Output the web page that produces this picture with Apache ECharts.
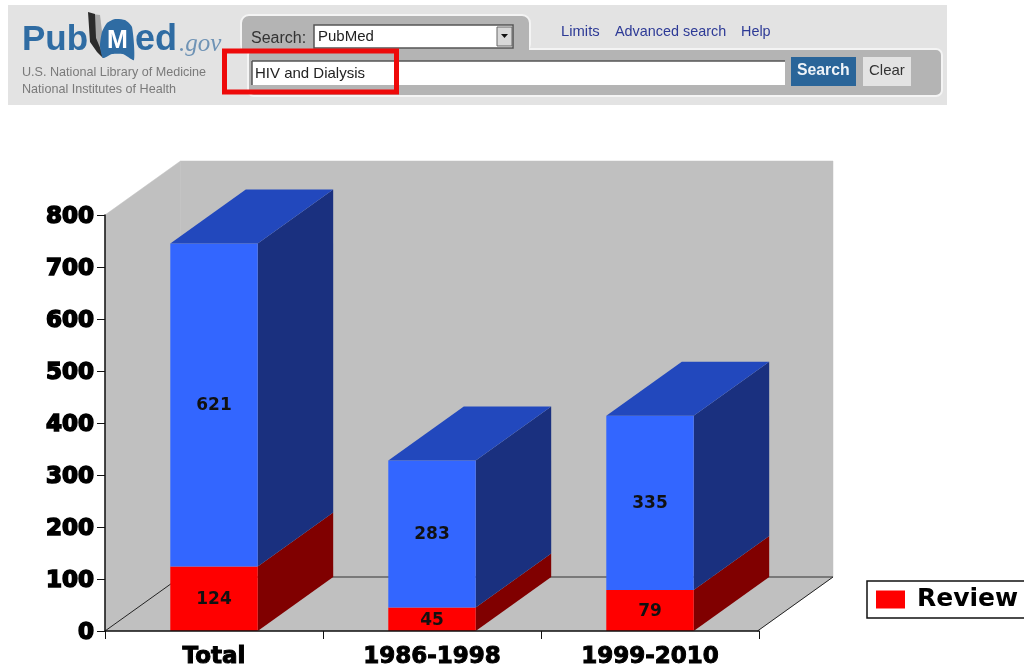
<!DOCTYPE html>
<html><head><meta charset="utf-8">
<style>html,body{margin:0;padding:0;background:#fff}#c{width:1024px;height:670px}</style>
<script src="https://cdn.jsdelivr.net/npm/echarts@6/dist/echarts.min.js"></script>
</head><body><div id="c"></div>
<script>
const categories = ['Total', '1986-1998', '1999-2010'];
const reviewValues = [124, 45, 79];
const otherValues = [621, 283, 335];
const yTicks = [0, 100, 200, 300, 400, 500, 600, 700, 800];

const DX = 75.5, DY = -54, BAR_RATIO = 0.401;
const chart = echarts.init(document.getElementById('c'));
const sans = '"Liberation Sans", Arial, sans-serif';
const heavy = '"DejaVu Sans", Verdana, sans-serif';

function backdrop(params, api) {
  const c = params.coordSys, l = c.x, r = c.x + c.width - 1.5, t = c.y, b = c.y + c.height;
  const wall = '#c0c0c0';
  const poly = pts => ({type:'polygon', shape:{points:pts}, style:{fill:wall, stroke:wall, lineWidth:0.5}});
  const line = (x1,y1,x2,y2,col,w) => ({type:'line', shape:{x1,y1,x2,y2}, style:{stroke:col, lineWidth:w}});
  return {type:'group', children:[
    poly([[l+DX,t+DY],[r+DX,t+DY],[r+DX,b+DY],[l+DX,b+DY]]),
    poly([[l,t],[l+DX,t+DY],[l+DX,b+DY],[l,b]]),
    poly([[l,b],[l+DX,b+DY],[r+DX,b+DY],[r,b]]),
    line(l+DX,b+DY,r+DX,b+DY,'#333',1.2),
    line(l,b,l+DX,b+DY,'#222',1),
    line(r,b,r+DX,b+DY,'#222',1)
  ]};
}

function barItem(front, side, top, drawTop) {
  return function (params, api) {
    const i = api.value(0);
    const p0 = api.coord([i, api.value(1)]), p1 = api.coord([i, api.value(2)]);
    const w = api.size([1, 0])[0] * BAR_RATIO;
    const xl = p0[0] - w / 2, xr = p0[0] + w / 2, yb = p0[1], yt = p1[1];
    const kids = [
      {type:'polygon', shape:{points:[[xr,yb],[xr+DX,yb+DY],[xr+DX,yt+DY],[xr,yt]]}, style:{fill:side}},
      {type:'polygon', shape:{points:[[xl,yb],[xr,yb],[xr,yt],[xl,yt]]}, style:{fill:front}}
    ];
    if (drawTop) kids.push({type:'polygon', shape:{points:[[xl,yt],[xr,yt],[xr+DX,yt+DY],[xl+DX,yt+DY]]}, style:{fill:top}});
    kids.push({type:'text', style:{text:String(api.value(2)-api.value(1)), x:p0[0], y:(yb+yt)/2+1,
      align:'center', verticalAlign:'middle', fill:'#111', font:'bold 17px '+heavy}});
    return {type:'group', children:kids};
  };
}

const txt = (text,x,y,font,fill,extra) => ({type:'text', x, y, style:Object.assign({text, font, fill, verticalAlign:'middle'}, extra||{})});
const rect = (x,y,width,height,fill,r,stroke,lw) => ({type:'rect', shape:{x,y,width,height,r:r||0}, style:{fill, stroke:stroke||null, lineWidth:lw||0}});

const header = [
  rect(8,5,939,100,'#e3e3e3'),
  // logo
  {type:'polygon', shape:{points:[[92,14],[100,15],[103,40],[100,52],[96,46]]}, style:{fill:'#a8a8a8'}},
  {type:'polygon', shape:{points:[[88,12],[95,14],[96,38],[101,50],[103,58],[97,52],[90,42]]}, style:{fill:'#2c2c2c'}},
  {type:'polygon', shape:{smooth:0.2, points:[[100,46],[102,32],[107,23],[115,19],[125,20],[132,27],[134,60],[123,54],[112,54],[103,58]]}, style:{fill:'#2f6ca3'}},
  txt('Pub',22,40,'bold 35px '+sans,'#2f6ca3'),
  txt('M',107,41,'bold 25px '+sans,'#ffffff'),
  txt('ed',135,40,'bold 36px '+sans,'#2f6ca3'),
  txt('.gov',179,44,'italic 25px "Liberation Serif", Georgia, serif','#6f93b5'),
  txt('U.S. National Library of Medicine',22,72.5,'12.6px '+sans,'#7a7a7a'),
  txt('National Institutes of Health',22,90,'12.6px '+sans,'#7a7a7a'),
  // tab and search bar
  rect(241,15,289,37,'#b4b4b4',8,'#f4f4f4',2),
  rect(248,49,694,47,'#b4b4b4',6,'#f4f4f4',2),
  rect(242,44,287,8,'#b4b4b4'),
  txt('Search:',251,39,'16px '+sans,'#333'),
  rect(314,25,199,23,'#ffffff',0,'#555',1.5),
  txt('PubMed',318,37,'15px '+sans,'#222'),
  rect(497,27,15,19,'#d8d8d8',0,'#666',1),
  {type:'polygon', shape:{points:[[501,34],[508,34],[504.5,38]]}, style:{fill:'#111'}},
  txt('Limits',561,32,'14.8px '+sans,'#2d3a96'),
  txt('Advanced search',615,32,'14.4px '+sans,'#2d3a96'),
  txt('Help',741,32,'14.4px '+sans,'#2d3a96'),
  rect(252,61,533,24,'#ffffff',0),
  {type:'line', shape:{x1:252,y1:61,x2:785,y2:61}, style:{stroke:'#555',lineWidth:1.5}},
  {type:'line', shape:{x1:252,y1:61,x2:252,y2:85}, style:{stroke:'#555',lineWidth:1.5}},
  txt('HIV and Dialysis',255,74,'15px '+sans,'#222'),
  rect(791,57,65,29,'#2a6599'),
  txt('Search',797,71,'bold 15.8px '+sans,'#eef3f8'),
  rect(863,57,48,29,'#e3e3e3'),
  txt('Clear',869,71,'15px '+sans,'#333'),
  {type:'rect', shape:{x:224.5,y:51,width:172,height:41}, style:{fill:'none', stroke:'#ee0a0a', lineWidth:5}}
];

const axisText = {fontFamily:heavy, fontWeight:'bold', color:'#000', textBorderColor:'#000'};

chart.setOption({
  animation:false,
  backgroundColor:'#fff',
  grid:{left:105, top:215, width:654, height:416, containLabel:false},
  xAxis:{type:'category', data:categories, z:10,
    axisLine:{lineStyle:{color:'#111', width:1.5}},
    axisTick:{show:true, length:8, lineStyle:{color:'#111', width:1}},
    axisLabel:Object.assign({fontSize:23, margin:15, interval:0, textBorderWidth:1}, axisText),
    splitLine:{show:false}},
  yAxis:{type:'value', min:yTicks[0], max:yTicks[yTicks.length-1], interval:100, z:10,
    axisLine:{show:true, lineStyle:{color:'#111', width:1.5}},
    axisTick:{show:true, length:8, lineStyle:{color:'#111', width:1}},
    axisLabel:Object.assign({fontSize:23, margin:11, verticalAlign:'top', lineHeight:4, textBorderWidth:1.6}, axisText),
    splitLine:{show:false}},
  legend:{data:[{name:'Review', icon:'rect'}], left:867, top:581, orient:'horizontal',
    backgroundColor:'#fff', borderColor:'#111', borderWidth:1.5, borderRadius:0,
    padding:[6,20,6,9], itemWidth:29, itemHeight:18,
    textStyle:{fontFamily:heavy, fontWeight:'bold', fontSize:25, color:'#000', padding:[0,0,4,7]}},
  graphic:header,
  series:[
    {type:'custom', name:'walls', z:1, silent:true, renderItem:backdrop, data:[[0,0,0]], encode:{x:0,y:1}, clip:false},
    {type:'custom', name:'Review', z:3, renderItem:barItem('#ff0000','#800000','#b00000',false),
      itemStyle:{color:'#ff0000'}, encode:{x:0,y:[1,2]}, clip:false,
      data:categories.map((c,i)=>[i,0,reviewValues[i]])},
    {type:'custom', name:'Other', z:3, renderItem:barItem('#3366ff','#1a307f','#2248bd',true),
      itemStyle:{color:'#3366ff'}, encode:{x:0,y:[1,2]}, clip:false,
      data:categories.map((c,i)=>[i,reviewValues[i],reviewValues[i]+otherValues[i]])}
  ]
});
</script></body></html>
